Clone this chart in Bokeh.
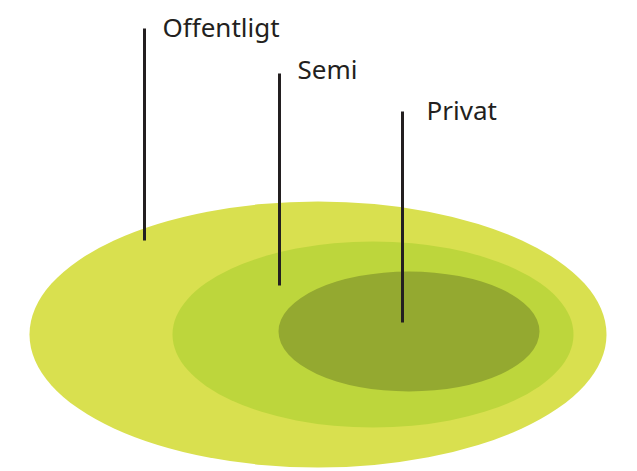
from bokeh.plotting import figure
from bokeh.models import Range1d, ColumnDataSource
from bokeh.core.properties import value
from bokeh.embed import file_html
from bokeh.resources import INLINE

# Zones (outer to inner)
zones = ["Offentligt", "Semi", "Privat"]
zone_colors = ["#D9E04F", "#BDD63C", "#94A930"]

# Ellipse geometry in page pixels (center x, center y, width, height)
ell_cx = [317.5, 372.5, 408.5]
ell_cy = [334, 334, 331]
ell_w = [577, 401, 261]
ell_h = [266, 186, 120]

# Leader lines (x, top y, bottom y) and label anchors
line_x = [144, 279, 402]
line_top = [28, 73, 111]
line_bottom = [240, 285, 322]
label_x = [162, 297, 426]
label_y = [26, 68, 109]

W, H = 637, 471

p = figure(width=W, height=H, output_backend="svg", toolbar_location=None,
           x_range=Range1d(0, W), y_range=Range1d(H, 0),
           min_border=0, outline_line_color=None)
p.axis.visible = False
p.grid.visible = False
p.background_fill_color = "white"
p.border_fill_color = "white"

src = ColumnDataSource(dict(x=ell_cx, y=ell_cy, w=ell_w, h=ell_h, c=zone_colors))
p.ellipse(x="x", y="y", width="w", height="h", fill_color="c",
          line_color=None, source=src)

p.segment(x0=line_x, y0=line_top, x1=line_x, y1=line_bottom,
          line_color="#231F20", line_width=3)

p.text(x=label_x, y=label_y, text=zones,
       text_font=value("Noto Sans"), text_font_size="26px",
       text_color="#231F20", text_baseline="alphabetic", text_align="left")

open("out.html", "w").write(file_html(p, INLINE))
